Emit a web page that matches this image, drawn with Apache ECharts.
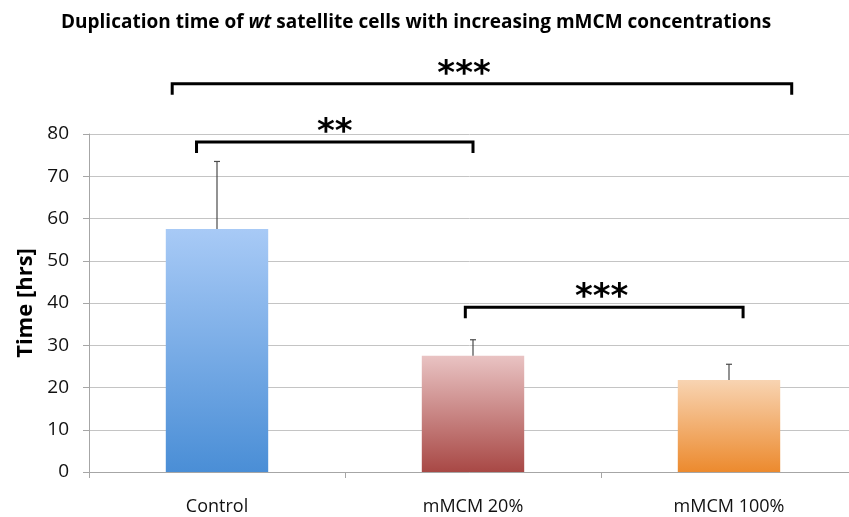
<!DOCTYPE html>
<html>
<head>
<meta charset="utf-8">
<script src="https://cdn.jsdelivr.net/npm/echarts@6/dist/echarts.min.js"></script>
<style>
  html, body { margin: 0; padding: 0; background: #fff; }
  #chart { width: 849px; height: 517px; }
</style>
</head>
<body>
<div id="chart"></div>
<script>
var categories = ['Control', 'mMCM 20%', 'mMCM 100%'];
var meanHours = [57.5, 27.5, 21.8];
var errHours = [16.0, 3.8, 3.7];
var yTicks = [0, 10, 20, 30, 40, 50, 60, 70, 80];

// significance brackets: from bar, to bar, level (hrs), stars
var sigFrom = [0, 0, 1];
var sigTo = [2, 1, 2];
var sigLevel = [91.9, 78.1, 39.0];
var sigLabel = ['***', '**', '***'];

// bracket end padding, in category band widths (layout only)
var sigPadLeft = [-0.175, -0.08, -0.03];
var sigPadRight = [0.245, 0.0, 0.055];
var sigTextShift = [-0.07, 0, -0.01];

var barColors = [
    ['#a8caf6', '#4a8ed6'],
    ['#e9c3c3', '#a84845'],
    ['#f8d4b2', '#ec8a2e']
];

var chart = echarts.init(document.getElementById('chart'));

chart.setOption({
    animation: false,
    title: {
        text: 'Duplication time of {i|wt} satellite cells with increasing mMCM concentrations',
        left: 56,
        top: 8,
        textStyle: {
            fontFamily: 'Open Sans',
            fontWeight: 'bold',
            fontSize: 19,
            color: '#000',
            rich: {
                i: { fontFamily: 'Open Sans', fontWeight: 'bold', fontStyle: 'italic', fontSize: 19, color: '#000' }
            }
        }
    },
    grid: { left: 89, top: 134, width: 768, height: 338, outerBoundsMode: 'none' },
    xAxis: {
        type: 'category',
        data: categories,
        axisLine: { lineStyle: { color: '#a6a6a6', width: 1 } },
        axisTick: { show: true, length: 6, lineStyle: { color: '#a6a6a6' } },
        axisLabel: { margin: 26, fontFamily: 'Open Sans', fontSize: 18, color: '#111' }
    },
    yAxis: {
        type: 'value',
        min: yTicks[0],
        max: yTicks[yTicks.length - 1],
        interval: 10,
        name: 'Time [hrs]',
        nameLocation: 'middle',
        nameGap: 50,
        nameTextStyle: { fontFamily: 'Open Sans', fontWeight: 'bold', fontSize: 22, color: '#000' },
        axisLine: { show: true, lineStyle: { color: '#a6a6a6' } },
        axisTick: { show: true, length: 6, lineStyle: { color: '#a6a6a6' } },
        axisLabel: { margin: 20, fontFamily: 'Open Sans', fontSize: 19, color: '#111' },
        splitLine: { lineStyle: { color: '#c4c4c4', width: 1 } }
    },
    series: [
        {
            type: 'bar',
            barWidth: '40%',
            data: meanHours.map(function (v, i) {
                return {
                    value: v,
                    itemStyle: {
                        color: new echarts.graphic.LinearGradient(0, 0, 0, 1, [
                            { offset: 0, color: barColors[i][0] },
                            { offset: 1, color: barColors[i][1] }
                        ])
                    }
                };
            })
        },
        {
            type: 'custom',
            name: 'error',
            z: 3,
            data: meanHours.map(function (v, i) { return [i, v, v + errHours[i]]; }),
            renderItem: function (params, api) {
                var base = api.coord([api.value(0), api.value(1)]);
                var top = api.coord([api.value(0), api.value(2)]);
                var style = { stroke: '#4a4a4a', lineWidth: 1.2, fill: null };
                return {
                    type: 'group',
                    children: [
                        { type: 'line', shape: { x1: base[0], y1: base[1], x2: top[0], y2: top[1] }, style: style },
                        { type: 'line', shape: { x1: top[0] - 3, y1: top[1], x2: top[0] + 3, y2: top[1] }, style: style }
                    ]
                };
            }
        },
        {
            type: 'custom',
            name: 'significance',
            clip: false,
            z: 4,
            data: sigLevel.map(function (lv, i) { return [sigFrom[i], sigTo[i], lv, i]; }),
            renderItem: function (params, api) {
                var k = api.value(3);
                var band = api.size([1, 0])[0];
                var a = api.coord([api.value(0), api.value(2)]);
                var b = api.coord([api.value(1), api.value(2)]);
                var x1 = a[0] + sigPadLeft[k] * band;
                var x2 = b[0] + sigPadRight[k] * band;
                var y = a[1];
                var drop = 11;
                return {
                    type: 'group',
                    children: [
                        {
                            type: 'polyline',
                            shape: { points: [[x1, y + drop], [x1, y], [x2, y], [x2, y + drop]] },
                            style: { stroke: '#000', lineWidth: 3, fill: null, lineJoin: 'miter' }
                        },
                        {
                            type: 'text',
                            style: {
                                text: sigLabel[k],
                                x: (x1 + x2) / 2 + sigTextShift[k] * band,
                                y: y + 8,
                                align: 'center',
                                verticalAlign: 'bottom',
                                font: 'bold 34px "DejaVu Sans"',
                                fill: '#000'
                            }
                        }
                    ]
                };
            }
        }
    ]
});
</script>
</body>
</html>
